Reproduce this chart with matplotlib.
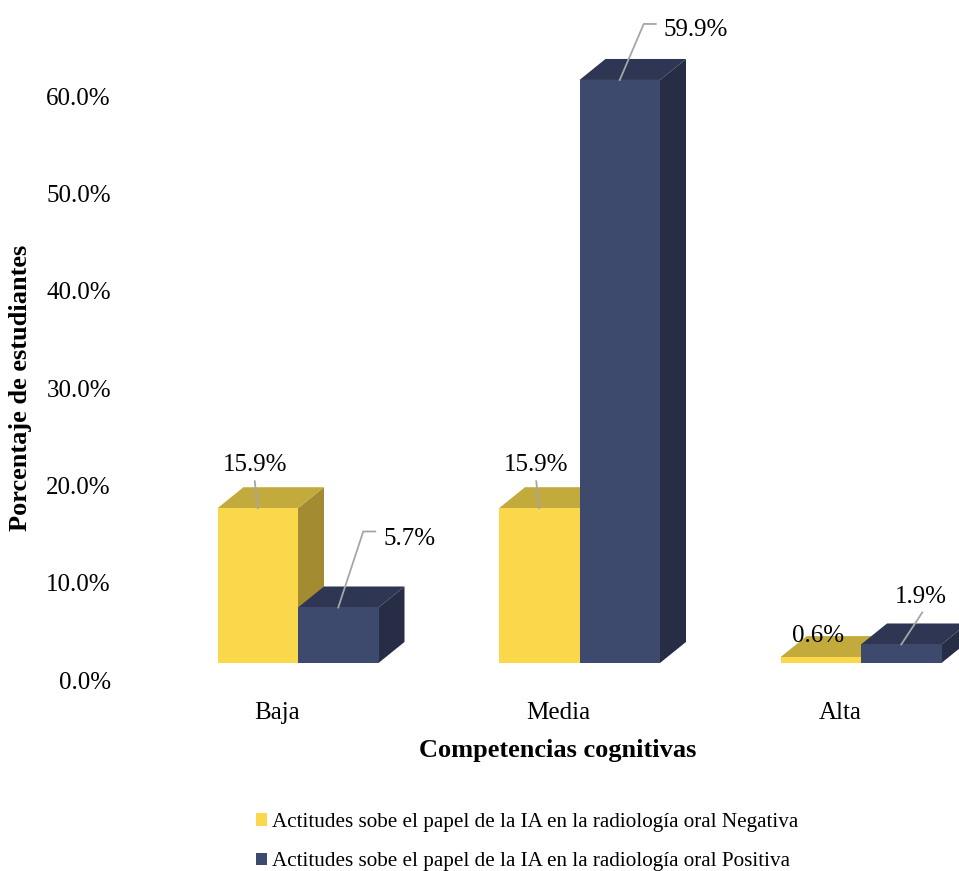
import numpy as np
import matplotlib
matplotlib.use("Agg")
import matplotlib.pyplot as plt
from matplotlib.patches import Polygon, Patch

# Datos
categorias = ["Baja", "Media", "Alta"]
negativa = [15.9, 15.9, 0.6]
positiva = [5.7, 59.9, 1.9]
series_nombres = [
    "Actitudes sobe el papel de la IA en la radiología oral Negativa",
    "Actitudes sobe el papel de la IA en la radiología oral Positiva",
]
yticks = [0, 10, 20, 30, 40, 50, 60]

# Colores (frente, tapa, lateral)
col_neg = ("#FBD84B", "#C2AA3C", "#A28B30")
col_pos = ("#3D4A6D", "#2E3653", "#262D45")
gris = "#A6A6A6"

plt.rcParams.update({
    "font.family": "serif",
    "font.serif": ["Liberation Serif", "DejaVu Serif"],
})

FS = 18
fig = plt.figure(figsize=(9.59, 8.71), dpi=100)
W, H = 959, 871
# ejes en pixeles: izquierda 120, cero en y=680, 9.733 px por punto porcentual
ymax = 67
ax = fig.add_axes([120 / W, (H - 680) / H, (W - 120) / W, ymax * 9.733 / H])
ax.set_xlim((120 - 277) / 281.5, (W - 277) / 281.5)
ax.set_ylim(0, ymax)

ancho = 80.5 / 281.5      # ancho de cada barra
desp = 21 / 281.5         # desplazamiento del grupo respecto a la etiqueta
base = 1.75               # elevacion del piso 3D
ddx, ddy = 26 / 281.5, 21 / 9.733  # profundidad


def barra3d(xl, v, cols):
    frente, tapa, lado = cols
    b = base
    lat = Polygon([(xl + ancho, b), (xl + ancho + ddx, b + ddy),
                   (xl + ancho + ddx, b + v + ddy), (xl + ancho, b + v)],
                  closed=True, facecolor=lado, edgecolor="none")
    sup = Polygon([(xl, b + v), (xl + ancho, b + v),
                   (xl + ancho + ddx, b + v + ddy), (xl + ddx, b + v + ddy)],
                  closed=True, facecolor=tapa, edgecolor="none")
    fr = Polygon([(xl, b), (xl + ancho, b), (xl + ancho, b + v), (xl, b + v)],
                 closed=True, facecolor=frente, edgecolor="none")
    for p in (lat, sup, fr):
        ax.add_patch(p)


x = np.arange(len(categorias))
for i in x:
    barra3d(i + desp - ancho, negativa[i], col_neg)
    barra3d(i + desp, positiva[i], col_pos)


def px_a_datos(xd, yd, dxp, dyp):
    p = ax.transData.transform((xd, yd)) + np.array([dxp, dyp])
    return ax.transData.inverted().transform(p)


# etiquetas de datos: (linea guia en px, posicion texto en px, alineacion)
guias_neg = [
    ([(0, 0), (-3, 27)], (-3, 37), "center"),
    ([(0, 0), (-3, 27)], (-3, 37), "center"),
    (None, (-3, 15), "center"),
]
guias_pos = [
    ([(0, 0), (25, 76), (37, 76)], (45, 62.5), "left"),
    ([(0, 0), (24, 56), (36, 56)], (44, 43.5), "left"),
    ([(0, 0), (21, 32)], (20, 41), "center"),
]

for vals, guias, dx0 in ((negativa, guias_neg, desp - ancho / 2),
                         (positiva, guias_pos, desp + ancho / 2)):
    for i, v in enumerate(vals):
        xc, yt = x[i] + dx0, base + v
        linea, (tx, ty), ha = guias[i]
        if linea is not None:
            pts = np.array([px_a_datos(xc, yt, a, b) for a, b in linea])
            ax.plot(pts[:, 0], pts[:, 1], color=gris, lw=1.3, clip_on=False)
        px, py = px_a_datos(xc, yt, tx, ty)
        ax.text(px, py, f"{v:.1f}%", ha=ha, va="baseline", fontsize=FS,
                clip_on=False)

ax.set_yticks(yticks)
ax.set_yticklabels([f"{t:.1f}%" for t in yticks], fontsize=FS)
ax.set_xticks(x)
ax.set_xticklabels(categorias, fontsize=FS)
ax.tick_params(axis="y", length=0, pad=6.5)
ax.tick_params(axis="x", length=0, pad=16)
for s in ax.spines.values():
    s.set_visible(False)

fig.text(558 / W, 1 - 750 / H, "Competencias cognitivas", fontsize=19,
         fontweight="bold", ha="center", va="center")
fig.text(21 / W, 1 - 388 / H, "Porcentaje de estudiantes", rotation=90,
         fontsize=19, fontweight="bold", ha="center", va="center")

handles = [Patch(facecolor=col_neg[0]), Patch(facecolor=col_pos[0])]
fig.legend(handles, series_nombres, loc="upper left",
           bbox_to_anchor=(256 / W, 1 - 813 / H), frameon=False,
           fontsize=15.2, handlelength=0.52, handleheight=0.52,
           handletextpad=0.25, labelspacing=0.96, borderpad=0,
           borderaxespad=0)

fig.savefig("out.png", dpi=100)
